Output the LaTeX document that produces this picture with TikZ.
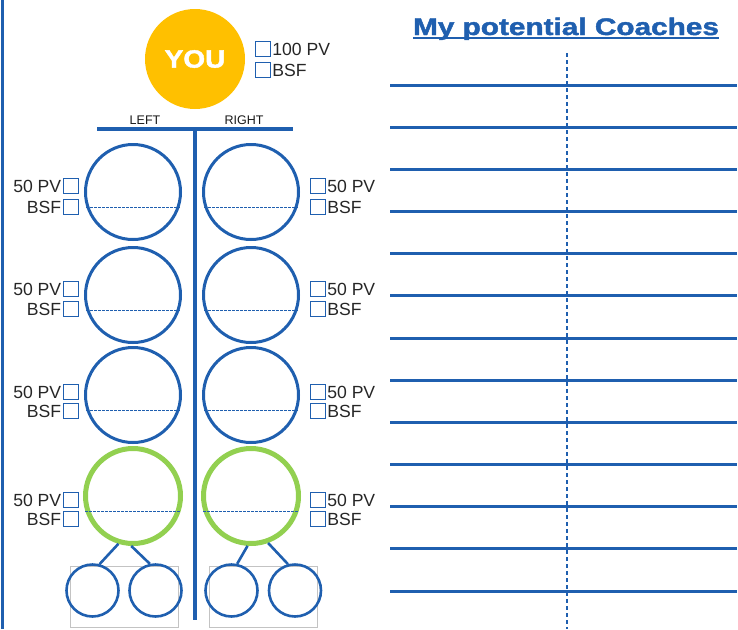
\documentclass[tikz,border=0pt]{standalone}
\usepackage{fontspec}
\setmainfont{Liberation Sans}
\newfontfamily\heavyfont[FakeBold=1.6]{Liberation Sans Bold}
\usetikzlibrary{positioning}

\definecolor{tblue}{RGB}{31,95,175}
\definecolor{tgreen}{RGB}{146,208,80}
\definecolor{torange}{RGB}{255,192,0}
\definecolor{tgray}{RGB}{195,195,195}

\tikzset{
  member/.style={circle, draw=tblue, line width=3pt, minimum size=95pt, inner sep=0pt},
  newmember/.style={member, draw=tgreen, line width=5pt},
  leg/.style={circle, draw=tblue, line width=2.6pt, minimum size=52pt, inner sep=0pt},
  tickbox/.style={rectangle, draw=tblue, line width=1.2pt, minimum size=15pt, inner sep=0pt},
  boxlabel/.style={font=\fontsize{17.6}{18}\selectfont, text=black!85, inner sep=0.5pt},
  sidelabel/.style={font=\fontsize{12.5}{13}\selectfont, text=black!90, inner sep=0pt, anchor=base},
  chord/.style={draw=tblue, line width=1.1pt, dash pattern=on 2.5pt off 1.5pt},
  rule/.style={draw=tblue, line width=3pt},
}

\begin{document}
\begin{tikzpicture}[x=1pt, y=-1pt]
    \useasboundingbox (0,0) rectangle (738,629);
    \draw[tblue, line width=3pt] (2,0) -- (2,629);

    % you
    \node(you) [circle, fill=torange, minimum size = 100pt, text=white,
      font=\fontsize{25}{25}\selectfont\heavyfont] at (195,59) {\scalebox{1.12}[1]{YOU}};
    \node(ypv) [tickbox] at (263,49) {};
    \node(ybsf) [tickbox] at (263,70) {};
    \node [boxlabel, right=0.5pt of ypv] {100 PV};
    \node [boxlabel, right=0.5pt of ybsf] {BSF};

    % left / right split
    \node(lleft) [sidelabel] at (145,124) {LEFT};
    \node(lright) [sidelabel] at (244,124) {RIGHT};
    \coordinate (barL) at (97,129);
    \coordinate (barR) at (293,129);
    \coordinate (trunkT) at (195,129);
    \coordinate (trunkB) at (195,620);
    \draw[tblue, line width=4pt] (barL) -- (barR);
    \draw[tblue, line width=4pt] (trunkT) -- (trunkB);

    % circles with boxes
    \foreach \n/\y/\bp/\bb/\kind in {1/192/186/207/member, 2/295/289/309/member,
                                     3/395/392/411/member, 4/496/500/519/newmember}{
      \node(l\n) [\kind] at (133,\y) {};
      \node(r\n) [\kind] at (251,\y) {};
      \draw[chord] (l\n.198) -- (l\n.-18);
      \draw[chord] (r\n.198) -- (r\n.-18);
      \node(lpv\n) [tickbox] at (71,\bp) {};
      \node(lbsf\n) [tickbox] at (71,\bb) {};
      \node [boxlabel, left=1pt of lpv\n] {50 PV};
      \node [boxlabel, left=1pt of lbsf\n] {BSF};
      \node(rpv\n) [tickbox] at (318,\bp) {};
      \node(rbsf\n) [tickbox] at (318,\bb) {};
      \node [boxlabel, right=0.5pt of rpv\n] {50 PV};
      \node [boxlabel, right=0.5pt of rbsf\n] {BSF};
    }

    % legs under the green ones
    \draw[tgray, line width=1pt] (70,566) rectangle (178,627);
    \draw[tgray, line width=1pt] (209,566) rectangle (317,627);
    \node(s1) [leg] at (92.5,590.5) {};
    \node(s2) [leg] at (155.5,590.5) {};
    \node(s3) [leg] at (231.5,590.5) {};
    \node(s4) [leg] at (295,590.5) {};
    \draw[tblue, line width=2.6pt] (l4.-107) -- (s1.75);
    \draw[tblue, line width=2.6pt] (l4.-92) -- (s2.102);
    \draw[tblue, line width=2.6pt] (r4.-94) -- (s3.78);
    \draw[tblue, line width=2.6pt] (r4.-70) -- (s4.105);

    % coaches
    \node(title) [anchor=base, text=tblue, inner sep=0pt,
      font=\fontsize{24}{24}\selectfont\heavyfont] at (566,35) {\scalebox{1.24}[1]{My potential Coaches}};
    \draw[tblue, line width=1.6pt] ([yshift=-3pt]title.base west) -- ([yshift=-3pt]title.base east);
    \coordinate (splitT) at (567,53);
    \coordinate (splitB) at (567,629);
    \draw[tblue, line width=1.5pt, dash pattern=on 4pt off 3pt] (splitT) -- (splitB);
    \foreach \i in {0,...,12}
      \draw[rule] (390,{85+42.17*\i}) -- (737,{85+42.17*\i});
\end{tikzpicture}
\end{document}
